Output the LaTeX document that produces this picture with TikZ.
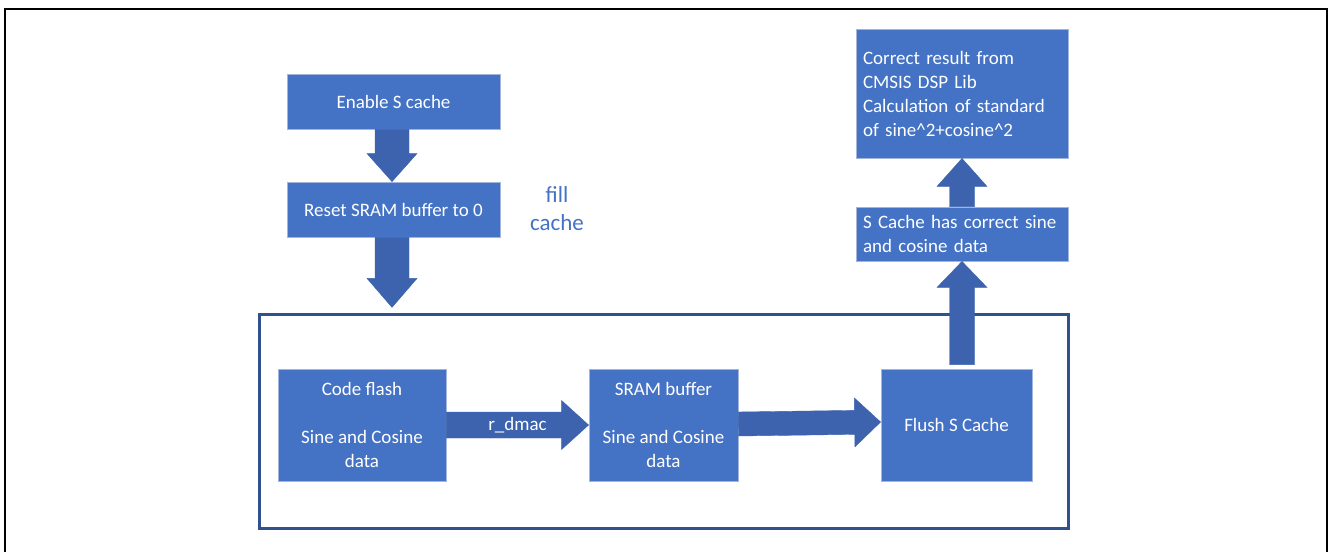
\documentclass[tikz,border=0pt]{standalone}
\usepackage{fontspec}
\setmainfont{Carlito}
\usetikzlibrary{calc}
\definecolor{boxblue}{HTML}{4472C4}
\definecolor{arrowblue}{HTML}{3D63AE}
\definecolor{framedark}{HTML}{2F528F}
\definecolor{boxedge}{HTML}{A3B5DA}
\tikzset{
  stepbox/.style={fill=boxblue, draw=boxedge, line width=0.8pt, text=white,
    font=\fontsize{19}{24}\selectfont, inner sep=0pt, align=center},
  leftbox/.style={stepbox, align=left, text width=198pt},
  arrowbody/.style={fill=arrowblue, draw=arrowblue, line width=0.4pt, line join=miter},
  lbl/.style={text=white, font=\fontsize{19}{24}\selectfont},
}
% block arrow from #1 to #2: half shaft #3, half head #4, head length #5
\newcommand\blockarrow[5]{%
  \coordinate (ba-h) at ($#2!#5!#1$);
  \path[arrowbody] ($#1!#3!90:#2$) -- ($(ba-h)!#3!90:#2$) -- ($(ba-h)!#4!90:#2$) -- #2
    -- ($(ba-h)!#4!-90:#2$) -- ($(ba-h)!#3!-90:#2$) -- ($#1!#3!-90:#2$) -- cycle;
}
\begin{document}
\begin{tikzpicture}[x=1pt,y=-1pt]
\useasboundingbox (0,0) rectangle (1328,552);
% outer black frame (open at bottom)
\draw[line width=2pt, black] (5,552) -- (5,9) -- (1327,9) -- (1327,552);

% container
\node[draw=framedark, line width=3pt, minimum width=809pt, minimum height=214pt, inner sep=0pt] (group) at (663.5,421) {};

% boxes
\node[stepbox, minimum width=213pt, minimum height=55pt] (enable) at (393.5,101.5) {Enable S cache};
\node[stepbox, minimum width=213pt, minimum height=55pt] (reset) at (393.5,209.5) {Reset SRAM buffer to 0};
\node[stepbox, minimum width=168pt, minimum height=112pt] (code) at (362,425) {Code flash\\[24pt]Sine and Cosine\\data};
\node[stepbox, minimum width=149pt, minimum height=112pt] (sram) at (663.5,425) {SRAM buffer\\[24pt]Sine and Cosine\\data};
\node[stepbox, minimum width=151pt, minimum height=112pt] (flush) at (956.5,425) {Flush S Cache};
\node[leftbox, minimum width=212pt, minimum height=54pt] (scache) at (962,234) {S Cache has correct sine\\and cosine data};
\node[leftbox, minimum width=212pt, minimum height=129pt] (result) at (962,93.5) {Correct result from\\CMSIS DSP Lib\\Calculation of standard\\of sine\textasciicircum 2+cosine\textasciicircum 2};

% fill cache label
\node[text=boxblue, font=\fontsize{23}{28}\selectfont, align=center] (fill) at (557,209) {fill\\cache};

% arrow end points
\coordinate (e1) at ($(enable.south)+(-1.5,0)$);
\coordinate (r1) at ($(reset.north)+(-1.5,0)$);
\coordinate (r2) at ($(reset.south)+(-1.5,0)$);
\coordinate (g1) at ($(reset.south)+(-1.5,70)$);
\coordinate (s1) at ($(sram.east)+(0,-1)$);
\coordinate (f1) at ($(flush.west)+(0,-3)$);
\coordinate (flushtop) at ($(flush.north)+(0,-4)$);
\coordinate (u1) at (scache.south |- flushtop);

% arrows
\blockarrow{(e1)}{(r1)}{17pt}{25pt}{28pt}
\blockarrow{(r2)}{(g1)}{17pt}{25pt}{29pt}
\blockarrow{(code.east)}{(sram.west)}{13pt}{24.5pt}{27pt}
\blockarrow{(s1)}{(f1)}{12pt}{24.5pt}{26pt}
\blockarrow{(u1)}{(scache.south)}{12.5pt}{25pt}{26pt}
\blockarrow{(scache.north)}{(result.south)}{12.5pt}{25pt}{28pt}
\node[lbl] (rdmac) at ($(code.east)!0.5!(sram.west)$) {r\_dmac};
\end{tikzpicture}
\end{document}
